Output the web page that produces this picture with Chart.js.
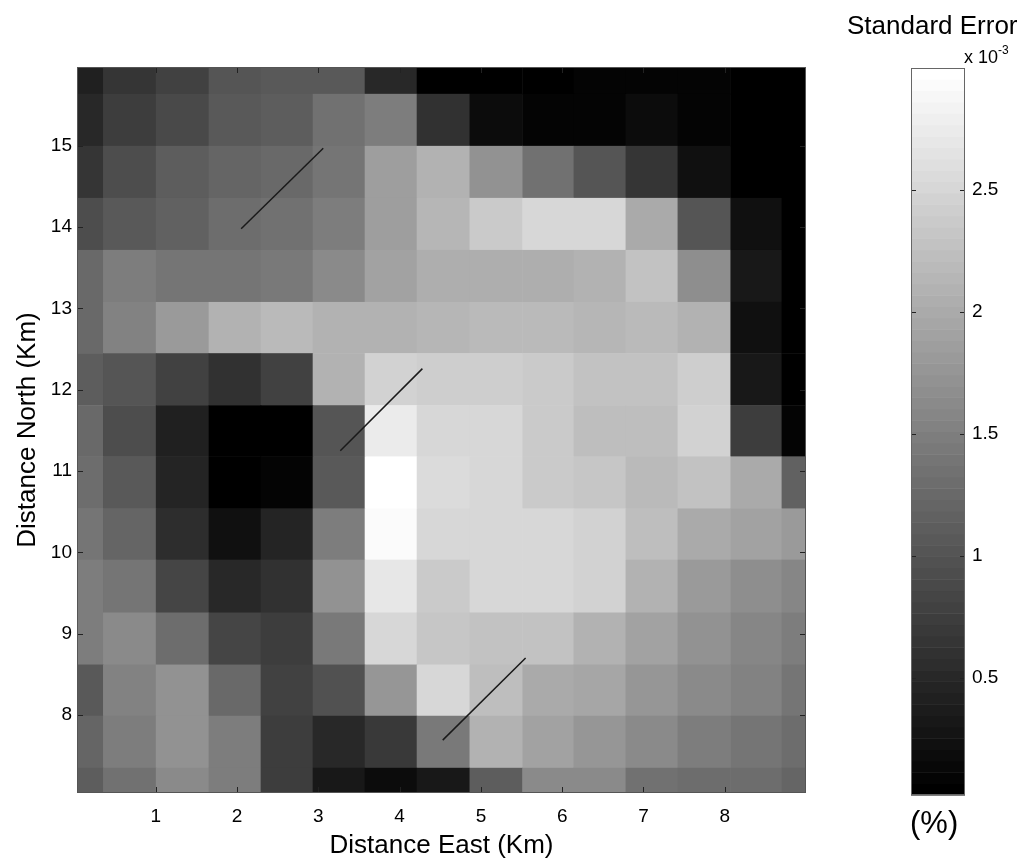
<!DOCTYPE html>
<html>
<head>
<meta charset="UTF-8">
<title>Standard Error</title>
<script src="https://cdn.jsdelivr.net/npm/chart.js"></script>
<style>
    body { margin: 0; background: #fff; }
    .box { position: absolute; }
    #mainBox { left: 0; top: 0; width: 830px; height: 863px; }
    #barBox { left: 880px; top: 0; width: 149px; height: 863px; }
    .txt { position: absolute; font-family: "Liberation Sans", Arial, sans-serif; color: #000; white-space: nowrap; line-height: 1; }
</style>
</head>
<body>

<div class="box" id="mainBox"><canvas id="heat"></canvas></div>
<div class="box" id="barBox"><canvas id="cbar"></canvas></div>

<div class="txt" style="left:847px; top:12px; font-size:26px;">Standard Error</div>
<div class="txt" style="left:964px; top:44px; font-size:18px;">x 10<sup style="font-size:12px; vertical-align:9px;">-3</sup></div>
<div class="txt" style="left:910px; top:807px; font-size:31px;">(%)</div>

<script>
    // grid cell edges (km)
    const xEdges = [0.03, 0.35, 1.0, 1.65, 2.29, 2.93, 3.57, 4.21, 4.86, 5.51, 6.14, 6.78, 7.42, 8.07, 8.70, 9.0];
    const yEdges = [15.97, 15.64, 15.0, 14.36, 13.72, 13.08, 12.45, 11.81, 11.18, 10.54, 9.91, 9.26, 8.62, 7.99, 7.35, 7.04];

    // standard error (x10^-3 %), rows from north to south
    const errRows = [
        [0.42, 0.65, 0.77, 1.01, 1.07, 1.07, 0.51, 0.02, 0.02, 0.06, 0.08, 0.11, 0.08, 0.02, 0.02],
        [0.52, 0.73, 0.88, 1.06, 1.10, 1.34, 1.50, 0.58, 0.17, 0.09, 0.09, 0.16, 0.08, 0.02, 0.02],
        [0.65, 0.91, 1.12, 1.21, 1.26, 1.41, 1.84, 2.08, 1.74, 1.33, 1.00, 0.65, 0.25, 0.02, 0.02],
        [0.95, 1.07, 1.14, 1.31, 1.35, 1.49, 1.88, 2.15, 2.39, 2.52, 2.52, 2.02, 1.00, 0.25, 0.02],
        [1.27, 1.49, 1.38, 1.41, 1.45, 1.61, 1.91, 2.03, 2.05, 2.03, 2.08, 2.26, 1.68, 0.34, 0.02],
        [1.24, 1.52, 1.83, 2.08, 2.17, 2.08, 2.08, 2.15, 2.17, 2.17, 2.12, 2.17, 2.10, 0.24, 0.02],
        [1.13, 1.04, 0.79, 0.62, 0.81, 2.10, 2.45, 2.43, 2.42, 2.36, 2.29, 2.29, 2.42, 0.34, 0.02],
        [1.26, 0.95, 0.42, 0.02, 0.02, 1.01, 2.73, 2.52, 2.52, 2.36, 2.23, 2.23, 2.45, 0.72, 0.08],
        [1.32, 1.08, 0.44, 0.02, 0.11, 1.06, 3.00, 2.56, 2.52, 2.38, 2.31, 2.17, 2.26, 2.01, 1.17],
        [1.41, 1.21, 0.57, 0.25, 0.44, 1.50, 2.94, 2.52, 2.52, 2.52, 2.45, 2.22, 1.99, 1.89, 1.82],
        [1.49, 1.38, 0.84, 0.52, 0.62, 1.70, 2.71, 2.36, 2.50, 2.50, 2.45, 2.08, 1.82, 1.68, 1.56],
        [1.47, 1.62, 1.28, 0.83, 0.76, 1.46, 2.49, 2.31, 2.29, 2.26, 2.08, 1.91, 1.71, 1.60, 1.47],
        [1.08, 1.55, 1.71, 1.26, 0.81, 0.98, 1.78, 2.53, 2.21, 2.02, 1.95, 1.78, 1.64, 1.55, 1.41],
        [1.21, 1.50, 1.74, 1.48, 0.74, 0.50, 0.69, 1.45, 2.08, 1.91, 1.78, 1.61, 1.47, 1.39, 1.31],
        [1.12, 1.36, 1.64, 1.47, 0.74, 0.34, 0.20, 0.32, 1.10, 1.64, 1.63, 1.35, 1.28, 1.31, 1.21]
    ];

    // direction segments [x0, y0, x1, y1] in km
    const segments = [
        [2.05, 13.98, 3.06, 14.97],
        [3.27, 11.25, 4.28, 12.26],
        [4.53, 7.69, 5.55, 8.70]
    ];

    const xTicks = [1, 2, 3, 4, 5, 6, 7, 8];
    const yTicks = [8, 9, 10, 11, 12, 13, 14, 15];
    const cbTicks = [0.5, 1, 1.5, 2, 2.5];
    const cMin = 0.02, cMax = 3.0;

    Chart.defaults.font.family = '"Liberation Sans", Arial, sans-serif';
    Chart.defaults.color = '#000';

    // matlab style 64 level gray map
    function grayOf(v) {
        let k = Math.floor((v - cMin) / (cMax - cMin) * 64);
        k = Math.max(0, Math.min(63, k));
        const g = Math.round(k / 63 * 255);
        return 'rgb(' + g + ',' + g + ',' + g + ')';
    }

    // ticks pointing inside the box, on all four sides
    function innerTicks(ctx, area, xs, ys, len) {
        ctx.save();
        ctx.strokeStyle = '#222';
        ctx.lineWidth = 1;
        ctx.beginPath();
        xs.forEach(function (px) {
            px = Math.round(px) + 0.5;
            ctx.moveTo(px, area.bottom); ctx.lineTo(px, area.bottom - len);
            ctx.moveTo(px, area.top); ctx.lineTo(px, area.top + len);
        });
        ys.forEach(function (py) {
            py = Math.round(py) + 0.5;
            ctx.moveTo(area.left, py); ctx.lineTo(area.left + len, py);
            ctx.moveTo(area.right, py); ctx.lineTo(area.right - len, py);
        });
        ctx.stroke();
        ctx.restore();
    }

    const heatPlugin = {
        id: 'heat',
        beforeDatasetsDraw(chart) {
            const ctx = chart.ctx, a = chart.chartArea;
            const sx = chart.scales.x, sy = chart.scales.y;
            ctx.save();
            ctx.beginPath();
            ctx.rect(a.left, a.top, a.right - a.left, a.bottom - a.top);
            ctx.clip();
            for (let r = 0; r < errRows.length; r++) {
                const y0 = sy.getPixelForValue(yEdges[r]);
                const y1 = sy.getPixelForValue(yEdges[r + 1]);
                for (let c = 0; c < errRows[r].length; c++) {
                    const x0 = sx.getPixelForValue(xEdges[c]);
                    const x1 = sx.getPixelForValue(xEdges[c + 1]);
                    ctx.fillStyle = grayOf(errRows[r][c]);
                    ctx.fillRect(x0, y0, x1 - x0 + 0.5, y1 - y0 + 0.5);
                }
            }
            ctx.restore();
        },
        afterDatasetsDraw(chart) {
            const ctx = chart.ctx, a = chart.chartArea;
            const sx = chart.scales.x, sy = chart.scales.y;
            innerTicks(ctx, a,
                xTicks.map(function (v) { return sx.getPixelForValue(v); }),
                yTicks.map(function (v) { return sy.getPixelForValue(v); }), 6);
            ctx.save();
            ctx.strokeStyle = '#555';
            ctx.lineWidth = 1;
            ctx.strokeRect(a.left + 0.5, a.top + 0.5, a.right - a.left - 1, a.bottom - a.top - 1);
            ctx.restore();
        }
    };

    new Chart(document.getElementById('heat'), {
        type: 'scatter',
        data: {
            datasets: segments.map(function (s) {
                return {
                    data: [{ x: s[0], y: s[1] }, { x: s[2], y: s[3] }],
                    showLine: true,
                    borderColor: '#1a1a1a',
                    borderWidth: 1.5,
                    pointRadius: 0
                };
            })
        },
        options: {
            responsive: true,
            maintainAspectRatio: false,
            animation: false,
            layout: { padding: { top: 67, right: 24, left: 0, bottom: 0 } },
            plugins: { legend: { display: false }, tooltip: { enabled: false } },
            scales: {
                x: {
                    type: 'linear',
                    min: 0.03,
                    max: 9.0,
                    afterBuildTicks: function (s) { s.ticks = xTicks.map(function (v) { return { value: v }; }); },
                    afterFit: function (s) { s.height = 70; },
                    grid: { display: false, drawTicks: false },
                    border: { display: false },
                    ticks: { font: { size: 19 }, padding: 12, maxRotation: 0 },
                    title: { display: true, text: 'Distance East (Km)', font: { size: 26 }, padding: { top: 0, bottom: 2 } }
                },
                y: {
                    type: 'linear',
                    min: 7.04,
                    max: 15.97,
                    afterBuildTicks: function (s) { s.ticks = yTicks.map(function (v) { return { value: v }; }); },
                    afterFit: function (s) { s.width = 77; },
                    grid: { display: false, drawTicks: false },
                    border: { display: false },
                    ticks: { font: { size: 19 }, padding: 5 },
                    title: { display: true, text: 'Distance North (Km)', font: { size: 26 }, padding: { top: 12, bottom: 0 } }
                }
            }
        },
        plugins: [heatPlugin]
    });

    // colour bar
    const barPlugin = {
        id: 'bar',
        beforeDatasetsDraw(chart) {
            const ctx = chart.ctx, a = chart.chartArea, sy = chart.scales.y;
            ctx.save();
            for (let k = 0; k < 64; k++) {
                const v0 = cMin + (cMax - cMin) * k / 64;
                const v1 = cMin + (cMax - cMin) * (k + 1) / 64;
                const p0 = sy.getPixelForValue(v0), p1 = sy.getPixelForValue(v1);
                ctx.fillStyle = grayOf((v0 + v1) / 2);
                ctx.fillRect(a.left, p1, a.right - a.left, p0 - p1 + 0.5);
            }
            ctx.restore();
            innerTicks(ctx, a, [], cbTicks.map(function (v) { return sy.getPixelForValue(v); }), 5);
            ctx.save();
            ctx.strokeStyle = '#666';
            ctx.lineWidth = 1;
            ctx.strokeRect(a.left + 0.5, a.top + 0.5, a.right - a.left - 1, a.bottom - a.top - 1);
            ctx.restore();
        }
    };

    new Chart(document.getElementById('cbar'), {
        type: 'scatter',
        data: { datasets: [] },
        options: {
            responsive: true,
            maintainAspectRatio: false,
            animation: false,
            layout: { padding: { top: 68, bottom: 68, left: 31, right: 0 } },
            plugins: { legend: { display: false }, tooltip: { enabled: false } },
            scales: {
                x: { display: false, min: 0, max: 1 },
                y: {
                    position: 'right',
                    min: cMin,
                    max: cMax,
                    afterBuildTicks: function (s) { s.ticks = cbTicks.map(function (v) { return { value: v }; }); },
                    afterFit: function (s) { s.width = 64; },
                    grid: { display: false, drawTicks: false },
                    border: { display: false },
                    ticks: { font: { size: 19 }, padding: 7, callback: function (v) { return String(v); } }
                }
            }
        },
        plugins: [barPlugin]
    });
</script>
</body>
</html>
